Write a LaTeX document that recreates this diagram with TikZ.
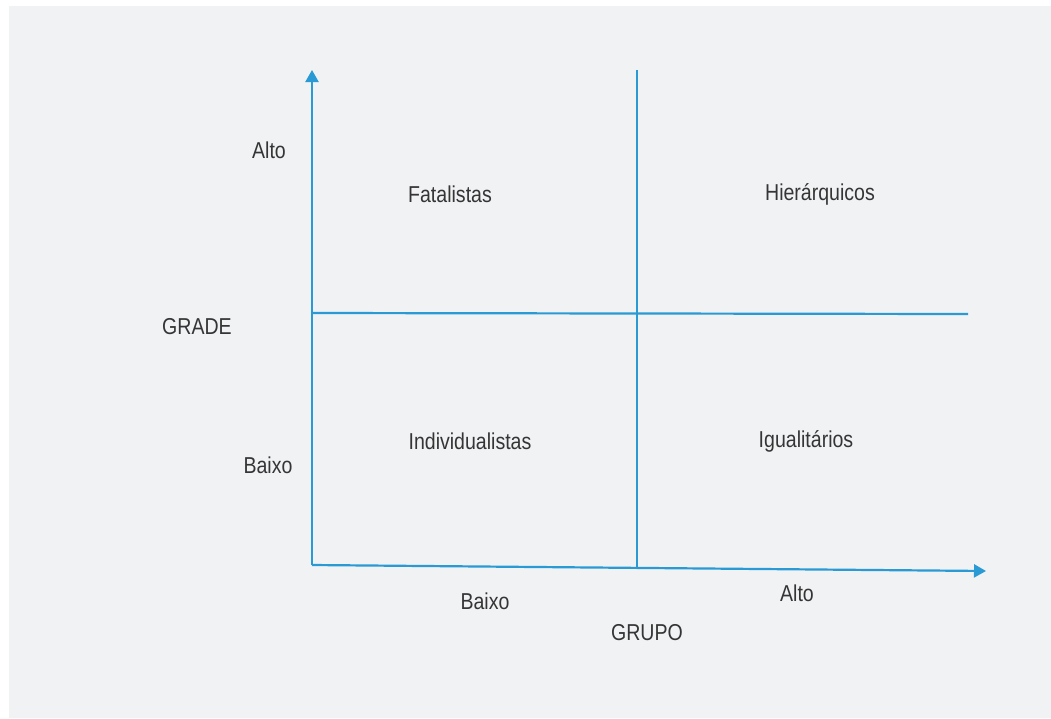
\documentclass[tikz,border=0pt]{standalone}
\usepackage{fontspec}
\setmainfont[FakeStretch=0.85]{Liberation Sans}
\usetikzlibrary{arrows.meta}
\definecolor{bgray}{HTML}{F1F2F4}
\definecolor{lblue}{HTML}{2A9AD4}
\definecolor{tgray}{HTML}{353535}
\tikzset{
  axisline/.style={draw=lblue, line width=2.2pt},
  axisarrow/.style={axisline, -{Triangle[width=13pt,length=12pt]}},
  lbl/.style={text=tgray, font=\fontsize{23}{26}\selectfont, inner sep=0pt, anchor=center}
}
\begin{document}
\begin{tikzpicture}[x=1pt,y=-1pt]
\useasboundingbox (0,0) rectangle (1051,718);
\fill[bgray] (9,6) rectangle (1051,718);
% coordinates
\coordinate (O) at (312,565);
\coordinate (Ytip) at (312,70);
\coordinate (Xtip) at (986,571);
\coordinate (Ml) at (312,313);
\coordinate (Mr) at (968,314);
\coordinate (Vt) at (637,70);
\coordinate (Vb) at (637,567);
% lines
\draw[axisarrow] (O) -- (Ytip);
\draw[axisarrow] (O) -- (Xtip);
\draw[axisline] (Ml) -- (Mr);
\draw[axisline] (Vt) -- (Vb);
% labels
\node[lbl] (alto1) at (269,150) {Alto};
\node[lbl] (grade) at (197,327) {GRADE};
\node[lbl] (baixo1) at (268,465) {Baixo};
\node[lbl] (fat) at (450,194) {Fatalistas};
\node[lbl] (hier) at (820,194) {Hierárquicos};
\node[lbl] (ind) at (470,441) {Individualistas};
\node[lbl] (igu) at (806,441) {Igualitários};
\node[lbl] (baixo2) at (485,601) {Baixo};
\node[lbl] (alto2) at (797,593) {Alto};
\node[lbl] (grupo) at (647,633) {GRUPO};
\end{tikzpicture}
\end{document}
